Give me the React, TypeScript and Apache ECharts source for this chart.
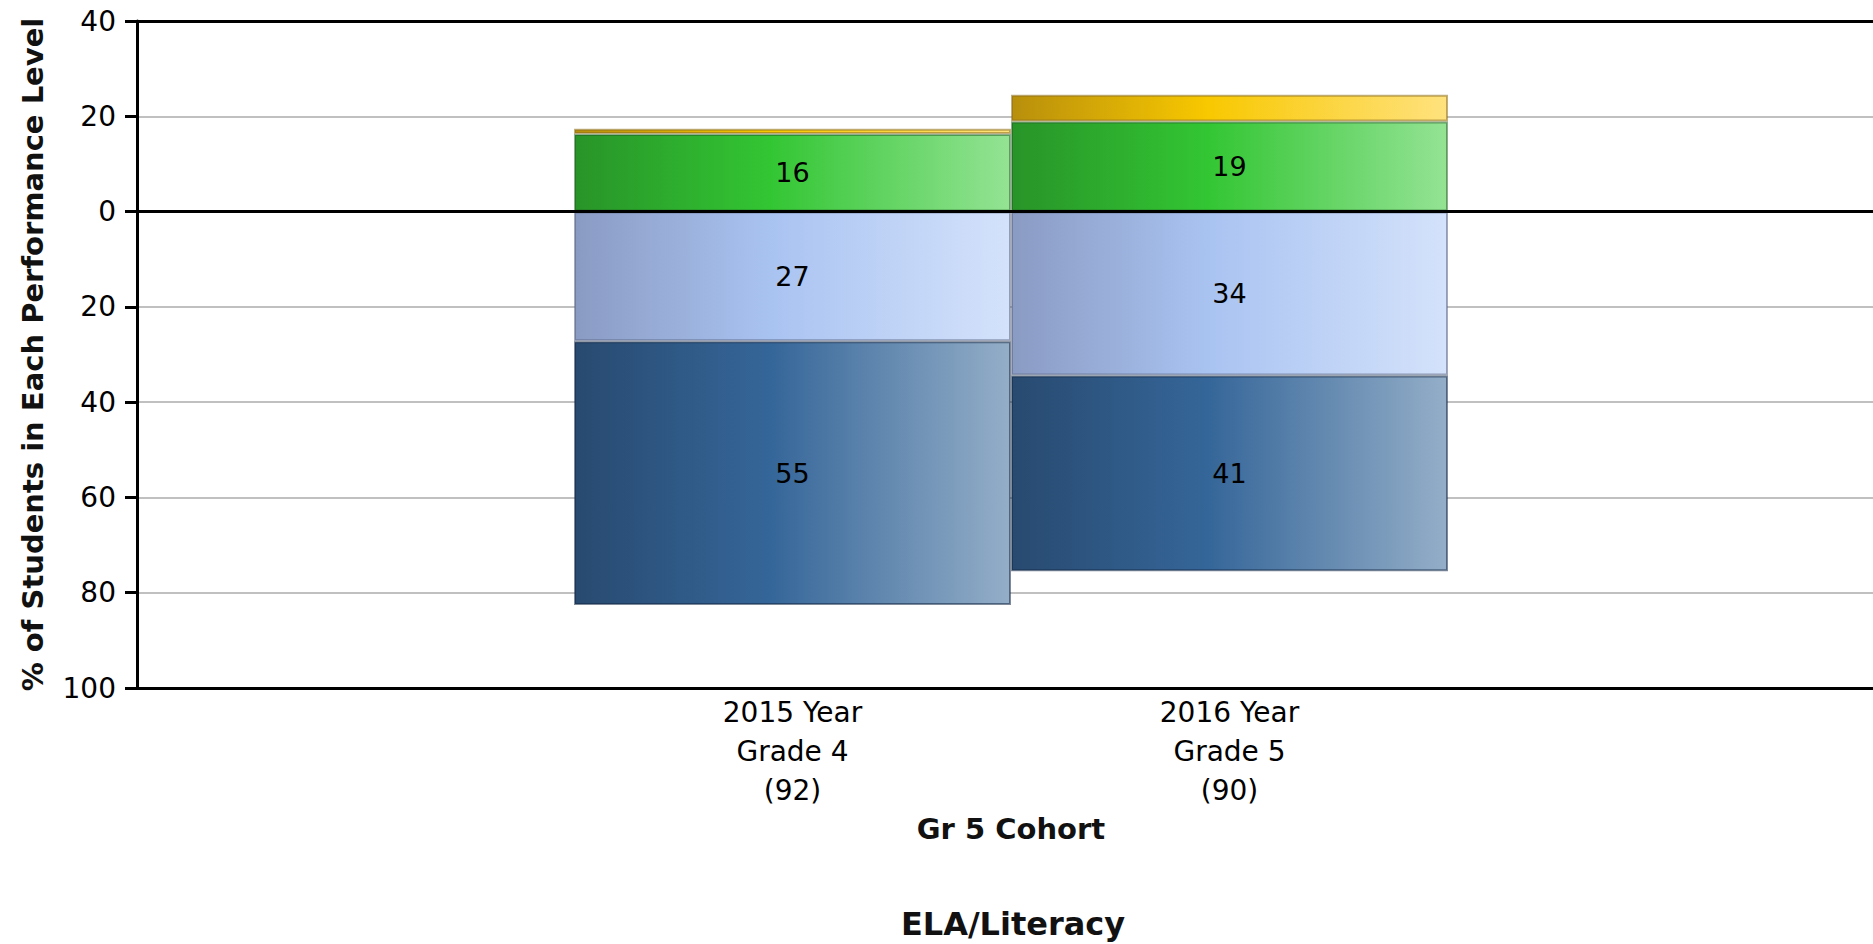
import React, { useEffect, useRef } from "react";
import * as echarts from "echarts";

const categories = ["", "2015 Year\nGrade 4\n(92)", "2016 Year\nGrade 5\n(90)", ""];
const level1 = [null, 55.4, 41.1, null];
const level2 = [null, 27.2, 34.4, null];
const level3 = [null, 16.3, 18.9, null];
const level4 = [null, 1.1, 5.6, null];
const yTickValues = [-100, -80, -60, -40, -20, 0, 20, 40];

const FONT = "DejaVu Sans";

function grad(stops: [number, string][]) {
  return new echarts.graphic.LinearGradient(
    0,
    0,
    1,
    0,
    stops.map(([offset, color]) => ({ offset, color }))
  );
}

const neg = (arr: (number | null)[]) => arr.map((v) => (v == null ? null : -v));

export default function App() {
  const ref = useRef<HTMLDivElement>(null);

  useEffect(() => {
    if (!ref.current) return;
    const chart = echarts.init(ref.current, null, { renderer: "svg" });

    const labelStyle = {
      show: true,
      position: "inside" as const,
      color: "#000",
      fontFamily: FONT,
      fontSize: 27,
      formatter: (p: any) => String(Math.round(Math.abs(p.value))),
    };

    const barBase = {
      type: "bar",
      stack: "total",
      barWidth: 437,
      barCategoryGap: 0,
      barGap: 0,
    };

    const option: any = {
      animation: false,
      backgroundColor: "#fff",
      grid: { left: 137, top: 21, right: 0, bottom: 944 - 688 },
      xAxis: [
        {
          type: "category",
          data: categories,
          position: "bottom",
          axisLine: { show: true, onZero: false, lineStyle: { color: "#000", width: 3 } },
          axisTick: { show: false },
          axisLabel: {
            interval: 0,
            color: "#000",
            fontFamily: FONT,
            fontSize: 28,
            lineHeight: 39,
            margin: 5,
          },
          splitLine: { show: false },
          name: "Gr 5 Cohort",
          nameLocation: "middle",
          nameGap: 126,
          nameTextStyle: { color: "#111", fontFamily: FONT, fontWeight: "bold", fontSize: 29 },
        },
        {
          type: "category",
          data: categories,
          position: "top",
          axisLine: { show: true, onZero: false, lineStyle: { color: "#000", width: 3 } },
          axisTick: { show: false },
          axisLabel: { show: false },
          splitLine: { show: false },
        },
      ],
      yAxis: {
        type: "value",
        min: yTickValues[0],
        max: yTickValues[yTickValues.length - 1],
        interval: 20,
        axisLine: { show: true, lineStyle: { color: "#000", width: 3 } },
        axisTick: { show: true, length: 12, lineStyle: { color: "#000", width: 3 } },
        axisLabel: {
          color: "#000",
          fontFamily: FONT,
          fontSize: 28,
          margin: 21,
          formatter: (v: number) => String(Math.abs(v)),
        },
        splitLine: { show: true, lineStyle: { color: "#c0c0c0", width: 2 } },
        name: "% of Students in Each Performance Level",
        nameLocation: "middle",
        nameRotate: 90,
        nameGap: 90,
        nameTextStyle: { color: "#111", fontFamily: FONT, fontWeight: "bold", fontSize: 29 },
      },
      series: [
        {
          ...barBase,
          name: "Level 2",
          data: neg(level2),
          label: labelStyle,
          itemStyle: {
            color: grad([
              [0, "#8a9bc3"],
              [0.45, "#a9c3f1"],
              [1, "#d4e2fb"],
            ]),
            borderColor: "rgba(90,100,130,0.55)",
            borderWidth: 2,
          },
        },
        {
          ...barBase,
          name: "Level 1",
          data: neg(level1),
          label: labelStyle,
          itemStyle: {
            color: grad([
              [0, "#284a70"],
              [0.45, "#356699"],
              [1, "#94aec8"],
            ]),
            borderColor: "rgba(20,40,70,0.55)",
            borderWidth: 2,
          },
        },
        {
          ...barBase,
          name: "Level 3",
          data: level3,
          label: labelStyle,
          itemStyle: {
            color: grad([
              [0, "#289428"],
              [0.45, "#33c633"],
              [1, "#94e394"],
            ]),
            borderColor: "rgba(30,90,30,0.5)",
            borderWidth: 2,
          },
          markLine: {
            symbol: "none",
            silent: true,
            label: { show: false },
            lineStyle: { color: "#000", width: 3, type: "solid" },
            data: [{ yAxis: 0 }],
          },
        },
        {
          ...barBase,
          name: "Level 4",
          data: level4,
          label: { show: false },
          itemStyle: {
            color: grad([
              [0, "#b88f0c"],
              [0.45, "#f8c800"],
              [1, "#ffe27e"],
            ]),
            borderColor: "rgba(140,110,30,0.55)",
            borderWidth: 2,
          },
        },
      ],
      graphic: [
        {
          type: "text",
          x: 1013,
          y: 924,
          style: {
            text: "ELA/Literacy",
            fontFamily: FONT,
            fontWeight: "bold",
            fontSize: 32,
            fill: "#111",
            align: "center",
            verticalAlign: "middle",
          },
        },
      ],
    };

    chart.setOption(option);
    return () => chart.dispose();
  }, []);

  return (
    <div
      style={{
        position: "absolute",
        left: 0,
        top: 0,
        width: 1873,
        height: 944,
        overflow: "hidden",
        background: "#fff",
      }}
    >
      <div ref={ref} style={{ width: 1885, height: 944 }} />
    </div>
  );
}
